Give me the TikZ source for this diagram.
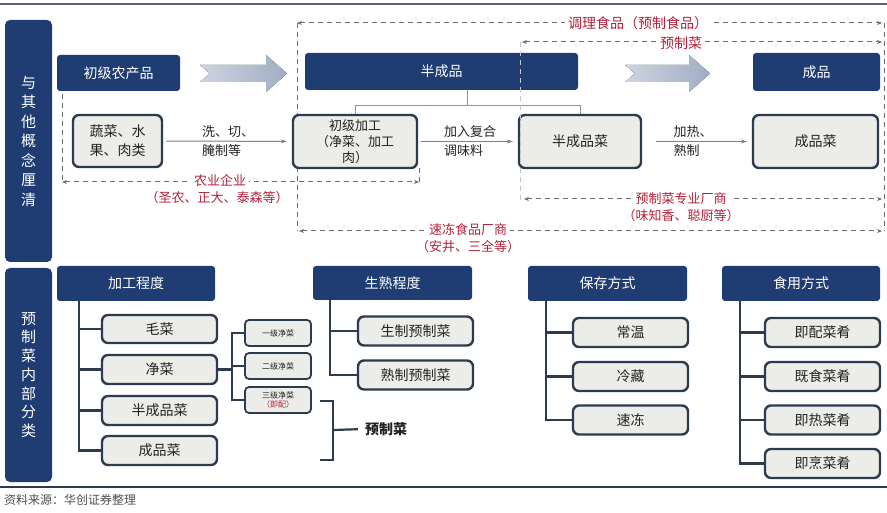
\documentclass[tikz,border=0pt]{standalone}
\usepackage{fontspec}
\setmainfont{Noto Sans CJK SC}
\usepackage{tikz}
\usetikzlibrary{arrows.meta,calc,positioning}
\definecolor{navy}{HTML}{1F3D72}
\definecolor{edge}{HTML}{2E3A4E}
\definecolor{boxfill}{HTML}{ECEDE8}
\definecolor{redtxt}{HTML}{B3213A}
\definecolor{dashgray}{HTML}{6E6E6E}
\definecolor{ink}{HTML}{222222}

\begin{document}
\begin{tikzpicture}[
  x=1pt, y=-1pt,
  hdr/.style={fill=navy, rounded corners=3pt, text=white, inner sep=0pt, font=\fontsize{14}{16}\selectfont},
  side/.style={fill=navy, rounded corners=5pt, text=white, inner sep=0pt, align=center},
  box/.style={draw=edge, line width=2.4pt, fill=boxfill, rounded corners=6pt, inner sep=0pt, align=center, text=ink, font=\fontsize{14}{16}\selectfont},
  sbox/.style={box, line width=1.8pt, rounded corners=4pt, font=\fontsize{8}{10}\selectfont},
  lbl/.style={fill=white, text=redtxt, inner sep=3pt, font=\fontsize{13}{15}\selectfont},
  note/.style={align=left, text=ink, inner sep=0pt, font=\fontsize{13}{19}\selectfont},
  dsh/.style={draw=dashgray, dash pattern=on 5pt off 4pt, line width=1pt},
  dshar/.style={dsh, {Stealth[length=5pt,width=4pt]}-{Stealth[length=5pt,width=4pt]}},
  arr/.style={draw=gray, line width=1pt, -{Stealth[length=6pt,width=4pt]}, shorten <=3pt, shorten >=5pt},
  link/.style={draw=gray!85, line width=1pt},
  tree/.style={draw=edge, line width=2.2pt},
  chev/.style={left color=navy!22, right color=navy!42, draw=none}
]
  \useasboundingbox (0,0) rectangle (887,513);

  % rules
  \coordinate (topL) at (0,4);
  \coordinate (topR) at (887,4);
  \coordinate (botL) at (0,487);
  \coordinate (botR) at (887,487);
  \draw[draw=edge!80, line width=2pt] (topL) -- (topR);
  \draw[draw=edge, line width=1.5pt] (botL) -- (botR);

  % side bars
  \node[side, minimum width=47, minimum height=242, font=\fontsize{15}{19.5}\selectfont] (side1) at (28.5,141)
    {与\\其\\他\\概\\念\\厘\\清};
  \node[side, minimum width=47, minimum height=214, font=\fontsize{15}{18.7}\selectfont] (side2) at (28.5,375)
    {预\\制\\菜\\内\\部\\分\\类};

  % dashed ranges
  \coordinate (tlL) at (297,23);   \coordinate (tlR) at (882,23);
  \coordinate (yzL) at (522,42);   \coordinate (yzR) at (882,42);
  \coordinate (nyL) at (62,182);   \coordinate (nyR) at (419,182);
  \coordinate (zyL) at (524,199);  \coordinate (zyR) at (882,199);
  \coordinate (sdL) at (299,231);  \coordinate (sdR) at (882,231);
  \draw[dsh] (297,23) -- (297,231);
  \draw[dsh] (884,23) -- (884,231);
  \draw[dsh] (62,94) -- (nyL);
  \draw[dsh] (419,168) -- (nyR);
  \draw[dshar] (tlL) -- (tlR);
  \draw[dshar] (yzL) -- (yzR);
  \draw[dshar] (nyL) -- (nyR);
  \draw[dshar] (zyL) -- (zyR);
  \draw[dshar] (sdL) -- (sdR);
  \node[lbl, font=\fontsize{14}{16}\selectfont] (tl) at (638,23) {调理食品（预制食品）};
  \node[lbl, font=\fontsize{14}{16}\selectfont] (yz) at (681,43) {预制菜};
  \node[lbl] (ny1) at (220,181) {农业企业};
  \node[lbl, fill=none] (ny2) at (217,198) {（圣农、正大、泰森等）};
  \node[lbl] (zy1) at (681,199) {预制菜专业厂商};
  \node[lbl, fill=none] (zy2) at (681,216) {（味知香、聪厨等）};
  \node[lbl] (sd1) at (468,230) {速冻食品厂商};
  \node[lbl, fill=none] (sd2) at (468,247) {（安井、三全等）};

  % top headers
  \node[hdr, minimum width=123, minimum height=36] (ncp) at (118.5,73) {初级农产品};
  \node[hdr, minimum width=273, minimum height=37] (bcp) at (441.5,71.5) {半成品};
  \node[hdr, minimum width=127, minimum height=38] (cp) at (816.5,72) {成品};
  \fill[chev] (200,65) -- (266,65) -- (266,55) -- (287,73.5) -- (266,92) -- (266,82) -- (200,82) -- (210,73.5) -- cycle;
  \fill[chev] (625,65) -- (689,65) -- (689,55) -- (710,73.5) -- (689,92) -- (689,82) -- (625,82) -- (635,73.5) -- cycle;

  % process chain
  \node[box, minimum width=89, minimum height=52, font=\fontsize{14}{19}\selectfont] (sc) at (117.5,141) {蔬菜、水\\果、肉类};
  \node[box, minimum width=124, minimum height=53, font=\fontsize{13}{16}\selectfont] (cjjg) at (355,141.5) {初级加工\\（净菜、加工\\肉）};
  \node[box, minimum width=122, minimum height=53] (bcpc) at (580,141.5) {半成品菜};
  \node[box, minimum width=125, minimum height=53] (cpc) at (815.5,141.5) {成品菜};
  \draw[arr] (sc) -- (cjjg);
  \draw[arr] (cjjg) -- (bcpc);
  \draw[arr] (bcpc.east) ++(11,0) -- (cpc);
  \node[note] (n1) at (228,141) {洗、切、\\腌制等};
  \node[note] (n2) at (470,141) {加入复合\\调味料};
  \node[note] (n3) at (693,141) {加热、\\熟制};

  % 半成品 bracket
  \coordinate (stem) at ($(cjjg.north)!0.5!(bcpc.north)+(0,-8)$);
  \draw[link] (cjjg.north) -- ++(0,-8) -| (bcpc.north);
  \draw[link] (bcp.south -| stem) -- (stem);
  \draw[dsh, draw=gray!45] (520,42) -- (520,200);

  % classification headers
  \node[hdr, minimum width=158, minimum height=35] (jg) at (136,283.5) {加工程度};
  \node[hdr, minimum width=159, minimum height=34] (ss) at (392.5,283) {生熟程度};
  \node[hdr, minimum width=159, minimum height=35] (bc) at (607.5,283.5) {保存方式};
  \node[hdr, minimum width=158, minimum height=35] (sy) at (801,283.5) {食用方式};

  % 加工程度
  \node[box, minimum width=115, minimum height=28] (mc) at (159.5,329) {毛菜};
  \node[box, minimum width=115, minimum height=29] (jc) at (159.5,369.5) {净菜};
  \node[box, minimum width=115, minimum height=29] (bcpx) at (159.5,410.5) {半成品菜};
  \node[box, minimum width=115, minimum height=29] (cpx) at (159.5,450.5) {成品菜};
  \foreach \c in {mc,jc,bcpx,cpx}
    \draw[tree] ([xshift=22pt]jg.south west) |- (\c.west);
  \node[sbox, minimum width=66, minimum height=26] (yj) at (278,333) {一级净菜};
  \node[sbox, minimum width=66, minimum height=26] (ej) at (278,366) {二级净菜};
  \node[sbox, minimum width=66, minimum height=26, font=\fontsize{8}{9}\selectfont] (sj) at (278,400)
    {三级净菜\\\textcolor{redtxt}{（即配）}};
  \coordinate (jn) at (232,369.5);
  \draw[tree] (jc.east) -- (jn);
  \foreach \c in {yj,ej,sj}
    \draw[tree] (jn) |- (\c.west);

  % 预制菜 brace
  \coordinate (brT) at (320,401);
  \coordinate (brB) at (320,460);
  \coordinate (brM) at (333,430);
  \node[text=ink, inner sep=0pt, font=\fontsize{14}{16}\selectfont\bfseries] (yzcl) at (386,429) {预制菜};
  \draw[tree] (brT) -- ++(13,0) |- (brB);
  \draw[tree, shorten >=7pt] (brM) -- (yzcl.west);

  % 生熟程度
  \node[box, minimum width=115, minimum height=29] (sz) at (415.5,331) {生制预制菜};
  \node[box, minimum width=115, minimum height=29] (sh) at (415.5,375) {熟制预制菜};
  \foreach \c in {sz,sh}
    \draw[tree] ([xshift=17pt]ss.south west) |- (\c.west);

  % 保存方式
  \node[box, minimum width=115, minimum height=29] (cw) at (630.5,332.5) {常温};
  \node[box, minimum width=115, minimum height=29] (lc) at (630.5,376.5) {冷藏};
  \node[box, minimum width=115, minimum height=29] (sdx) at (630.5,420) {速冻};
  \foreach \c in {cw,lc,sdx}
    \draw[tree] ([xshift=18pt]bc.south west) |- (\c.west);

  % 食用方式
  \node[box, minimum width=115, minimum height=29] (jp) at (822.5,332.5) {即配菜肴};
  \node[box, minimum width=115, minimum height=29] (js) at (822.5,376.5) {既食菜肴};
  \node[box, minimum width=115, minimum height=29] (jr) at (822.5,420) {即热菜肴};
  \node[box, minimum width=115, minimum height=29] (jpe) at (822.5,463.5) {即烹菜肴};
  \foreach \c in {jp,js,jr,jpe}
    \draw[tree] ([xshift=18pt]sy.south west) |- (\c.west);

  % source
  \node[anchor=west, text=ink!80, inner sep=0pt, font=\fontsize{12}{14}\selectfont] (src) at (4,500) {资料来源：华创证券整理};
\end{tikzpicture}
\end{document}
